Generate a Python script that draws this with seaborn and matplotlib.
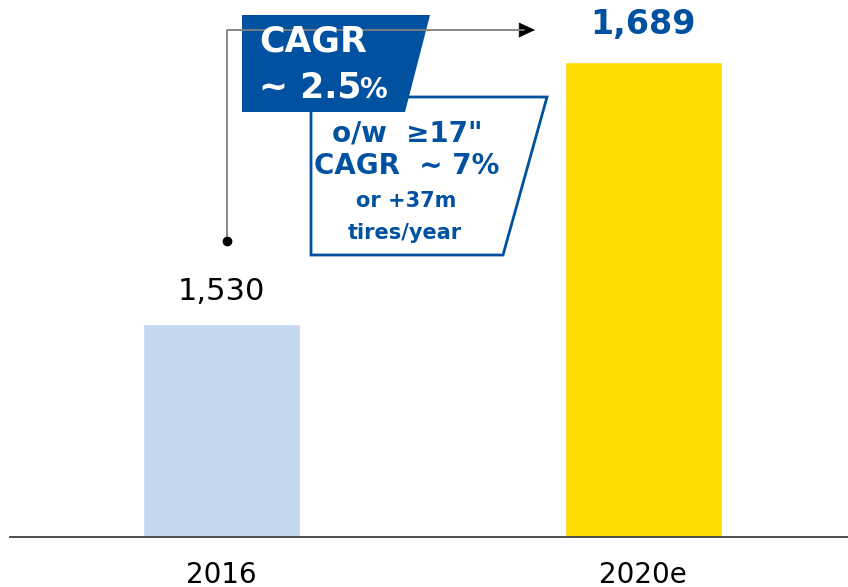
import matplotlib
matplotlib.use("Agg")
import matplotlib.pyplot as plt
from matplotlib.patches import Polygon
import seaborn as sns

years = ["2016", "2020e"]
volumes = [1530, 1689]
labels = ["1,530", "1,689"]
bar_colors = ["#C5D7EE", "#FFDC00"]

BLUE = "#0051A0"
W, H = 848, 587

sns.set_theme(style="white")
plt.rcParams["font.family"] = ["DejaVu Sans"]

fig = plt.figure(figsize=(W / 100, H / 100), dpi=100)
ax = fig.add_axes([10 / W, 50 / H, 1 - 10 / W, 1 - 50 / H])

sns.barplot(x=years, y=volumes, hue=years, palette=bar_colors, width=0.372,
            legend=False, saturation=1, ax=ax)

ax.set_xlim(-0.501, 1.485)
ax.set_ylim(1400, 1727)
ax.set_yticks([])
ax.set_xlabel("")
ax.set_ylabel("")
for s in ["left", "right", "top"]:
    ax.spines[s].set_visible(False)
ax.spines["bottom"].set_color("#404040")
ax.spines["bottom"].set_linewidth(1.3)
ax.tick_params(axis="x", length=0, pad=17, labelsize=20, labelcolor="black")

# value labels
ax.annotate(labels[0], (0, volumes[0]), xytext=(0, 23), textcoords="offset points",
            ha="center", va="center", fontsize=22, color="black")
ax.annotate(labels[1], (1, volumes[1]), xytext=(0, 27), textcoords="offset points",
            ha="center", va="center", fontsize=24, color=BLUE, fontweight="bold")


def px(x, y):
    return (x / W, 1 - y / H)


tf = fig.transFigure

# CAGR connector: dot, vertical line, horizontal arrow
fig.add_artist(plt.Line2D(*zip(px(227, 241), px(227, 30), px(524, 30)),
                          transform=tf, color="#7F7F7F", lw=1.3))
ax.annotate("", xy=px(535, 30), xycoords=tf, xytext=px(519, 30), textcoords=tf,
            arrowprops=dict(arrowstyle="-|>,head_length=0.6,head_width=0.28",
                            color="black", lw=0.5,
                            mutation_scale=18, shrinkA=0, shrinkB=0))
fig.add_artist(plt.Line2D([227 / W], [1 - 241 / H], transform=tf, marker="o",
                          markersize=6, color="black"))

# white outlined box
fig.add_artist(Polygon([px(311, 97), px(547, 97), px(503, 255), px(311, 255)],
                       closed=True, transform=tf, facecolor="white",
                       edgecolor=BLUE, lw=2))
# blue parallelogram
fig.add_artist(Polygon([px(242, 15), px(430, 15), px(405, 112), px(242, 112)],
                       closed=True, transform=tf, facecolor=BLUE, edgecolor="none"))

fig.text(*px(259, 42), "CAGR", transform=tf, ha="left", va="center",
         fontsize=25, fontweight="bold", color="white")
fig.text(*px(259, 87), "~ 2.5", transform=tf, ha="left", va="center",
         fontsize=25, fontweight="bold", color="white")
fig.text(*px(359, 90), "%", transform=tf, ha="left", va="center",
         fontsize=20, fontweight="bold", color="white")

fig.text(*px(407, 133), "o/w  \u226517\"", transform=tf, ha="center", va="center",
         fontsize=20, fontweight="bold", color=BLUE)
fig.text(*px(407, 166), "CAGR  ~ 7%", transform=tf, ha="center", va="center",
         fontsize=20, fontweight="bold", color=BLUE)
fig.text(*px(406, 201), "or +37m", transform=tf, ha="center", va="center",
         fontsize=15, fontweight="bold", color=BLUE)
fig.text(*px(405, 233), "tires/year", transform=tf, ha="center", va="center",
         fontsize=15, fontweight="bold", color=BLUE)

fig.savefig("out.png", dpi=100)
